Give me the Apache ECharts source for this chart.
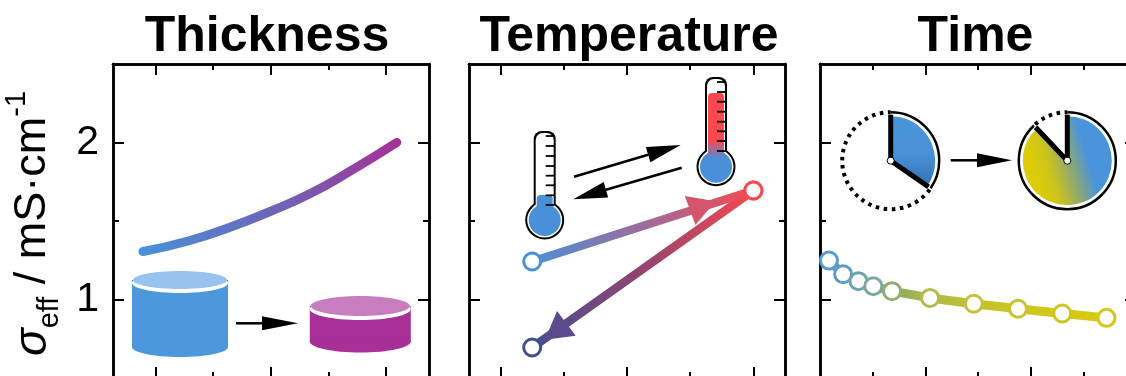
<!DOCTYPE html>
<html>
<head>
<meta charset="utf-8">
<style>
  html, body { margin: 0; padding: 0; background: #fff; overflow: hidden; }
  #chart { width: 1126px; height: 376px; }
</style>
<script src="https://cdn.jsdelivr.net/npm/echarts@6/dist/echarts.min.js"></script>
</head>
<body>
<div id="chart"></div>
<script>
// titles and shared y scale
const titles = ["Thickness", "Temperature", "Time"]
const yMajor = [1, 2]
const yMinor = [1.5]
const yRange = [0.5, 2.5]

// thickness panel
const thicknessRange = [-0.74, 4.75]
const thicknessMajor = [0, 2, 4]
const thicknessMinor = [1, 3]
const thicknessX = [-0.22, 0.55, 1.34, 2.0, 2.68, 3.38, 4.19]
const thicknessY = [1.306, 1.371, 1.467, 1.562, 1.673, 1.817, 2.0]

// temperature panel
const tempRange = [15, 65]
const tempMajor = [20, 40, 60]
const tempMinor = [30, 50]
const heatingX = [25, 60]
const heatingY = [1.242, 1.694]
const coolingX = [60, 25]
const coolingY = [1.694, 0.694]
const arrowX = [52, 28.7]
const arrowY = [1.596, 0.796]
const arrowRotate = [-70, 127]
const arrowColors = ["#d5566c", "#5b4a8e"]

// time panel
const timeRange = [0, 30]
const timeMajor = [10, 20]
const timeMinor = [5, 15, 25]
const timeX = [0.85, 2.2, 3.65, 5.06, 6.84, 10.45, 14.6, 18.8, 23, 27.2]
const timeY = [1.248, 1.161, 1.117, 1.085, 1.053, 1.01, 0.973, 0.941, 0.911, 0.883]
const timeRing = ["#5b9ad0", "#5f9cc4", "#6ea3ad", "#7ea99a", "#93ae75", "#b4bb50", "#c2c23c", "#c8c42e", "#cec620", "#d4c912"]

const FONT = '"Liberation Sans", Arial, sans-serif'
const panels = [
  { left: 113, xRange: thicknessRange, major: thicknessMajor, minor: thicknessMinor, center: 262 },
  { left: 469, xRange: tempRange, major: tempMajor, minor: tempMinor, center: 624 },
  { left: 820, xRange: timeRange, major: timeMajor, minor: timeMinor, center: 970.5 }
]

const grids = [], xAxes = [], yAxes = []

function frameAxis(gridIndex, range, position, ticks, length) {
  return {
    type: "value",
    gridIndex,
    min: range[0],
    max: range[1],
    position,
    splitLine: { show: false },
    axisLine: { show: true, onZero: false, lineStyle: { color: "#000", width: 2.5 } },
    axisTick: { show: true, inside: true, length, customValues: ticks, lineStyle: { color: "#000", width: 2 } },
    axisLabel: { show: false }
  }
}

// each panel gets two stacked grids, one for long ticks and one for short ticks
panels.forEach(function (p, i) {
  ;[[p.major, yMajor, 11], [p.minor, yMinor, 6]].forEach(function (set, k) {
    const g = grids.length
    grids.push({ left: p.left, top: 64, width: 316, height: 314, outerBoundsMode: "none" })
    xAxes.push(frameAxis(g, p.xRange, "bottom", set[0], set[2]))
    xAxes.push(frameAxis(g, p.xRange, "top", set[0], set[2]))
    const yl = frameAxis(g, yRange, "left", set[1], set[2])
    if (i === 0 && k === 0) {
      yl.axisLabel = { show: true, customValues: yMajor, margin: 14, color: "#000", fontFamily: FONT, fontSize: 41 }
      yl.name = "{s|σ}{sub|eff}{n| / mS·cm}{sup|-1}"
      yl.nameLocation = "middle"
      yl.nameGap = 49
      yl.nameTextStyle = {
        color: "#000",
        padding: [0, 5, 0, 0],
        rich: {
          s: { fontFamily: FONT, fontStyle: "italic", fontSize: 46, lineHeight: 62, color: "#000" },
          n: { fontFamily: FONT, fontSize: 45, lineHeight: 62, color: "#000" },
          sub: { fontFamily: FONT, fontSize: 29, lineHeight: 62, verticalAlign: "bottom", color: "#000" },
          sup: { fontFamily: FONT, fontSize: 29, lineHeight: 62, verticalAlign: "top", color: "#000" }
        }
      }
    }
    yAxes.push(yl)
    yAxes.push(frameAxis(g, yRange, "right", set[1], set[2]))
  })
})

function pairs(xs, ys) {
  return xs.map(function (x, i) { return [x, ys[i]] })
}
function ringed(xs, ys, colors) {
  return xs.map(function (x, i) {
    return { value: [x, ys[i]], itemStyle: { color: "#fff", borderColor: colors[i], borderWidth: 3 } }
  })
}
function gradient(stops) {
  return {
    type: "linear", x: 0, y: 0, x2: 1, y2: 0,
    colorStops: stops.map(function (s) { return { offset: s[0], color: s[1] } })
  }
}

const series = [
  {
    type: "line",
    xAxisIndex: 0,
    yAxisIndex: 0,
    data: pairs(thicknessX, thicknessY),
    smooth: true,
    showSymbol: false,
    silent: true,
    lineStyle: { width: 9, cap: "round", color: gradient([[0, "#4a90dc"], [0.5, "#6a68b8"], [1, "#a82f96"]]) }
  },
  {
    type: "line",
    xAxisIndex: 4,
    yAxisIndex: 4,
    z: 4,
    data: ringed(coolingX, coolingY, ["#f9484f", "#3e4f92"]),
    symbol: "circle",
    symbolSize: 17,
    clip: false,
    silent: true,
    lineStyle: { width: 8.5, color: gradient([[0, "#3e4f92"], [0.5, "#94456f"], [1, "#f9484f"]]) }
  },
  {
    type: "line",
    xAxisIndex: 4,
    yAxisIndex: 4,
    z: 5,
    data: ringed(heatingX, heatingY, ["#4a90d9", "#f9484f"]),
    symbol: "circle",
    symbolSize: 17,
    clip: false,
    silent: true,
    lineStyle: { width: 8.5, color: gradient([[0, "#4a90d9"], [0.5, "#9c6d9c"], [1, "#f9484f"]]) }
  },
  {
    type: "scatter",
    xAxisIndex: 4,
    yAxisIndex: 4,
    z: 6,
    silent: true,
    symbol: "triangle",
    symbolSize: [31, 27],
    data: arrowX.map(function (x, i) {
      return { value: [x, arrowY[i]], symbolRotate: arrowRotate[i], itemStyle: { color: arrowColors[i], opacity: 1 } }
    })
  },
  {
    type: "line",
    xAxisIndex: 8,
    yAxisIndex: 8,
    z: 5,
    data: ringed(timeX, timeY, timeRing),
    symbol: "circle",
    symbolSize: 17,
    clip: false,
    silent: true,
    lineStyle: { width: 9, color: gradient([[0, "#5b9ad0"], [0.23, "#8aa86a"], [0.36, "#afb84a"], [0.6, "#c9c525"], [1, "#d8cc10"]]) }
  }
]

// illustrations, placed by hand in pixels
const art = []
function add(type, shape, style, z) {
  art.push({ type, shape, style, silent: true, z: z || 1 })
}
function solidArrow(x0, y0, x1, y1, headLen, headHalf, w) {
  const a = Math.atan2(y1 - y0, x1 - x0)
  const bx = x1 - headLen * Math.cos(a), by = y1 - headLen * Math.sin(a)
  const nx = -Math.sin(a) * headHalf, ny = Math.cos(a) * headHalf
  add("line", { x1: x0, y1: y0, x2: bx, y2: by }, { stroke: "#000", lineWidth: w })
  add("polygon", { points: [[x1, y1], [bx + nx, by + ny], [bx - nx, by - ny]] }, { fill: "#000" })
}
function cylinder(cx, rx, topY, botY, ry, dark, light) {
  add("ellipse", { cx, cy: botY, rx, ry }, { fill: dark })
  add("rect", { x: cx - rx, y: topY, width: 2 * rx, height: botY - topY }, { fill: dark })
  add("ellipse", { cx, cy: topY + 3, rx, ry }, { fill: "#fff" })
  add("ellipse", { cx, cy: topY, rx: rx - 1, ry: ry - 1 }, { fill: light })
}
function thermometer(cx, bulbY, topY, levelY, tickY, tube) {
  add("circle", { cx, cy: bulbY, r: 19.5 }, { fill: "#000" })
  add("rect", { x: cx - 11, y: topY, width: 22, height: bulbY - topY - 10, r: [8, 8, 0, 0] }, { fill: "#000" })
  add("circle", { cx, cy: bulbY, r: 17.5 }, { fill: "#fff" })
  add("rect", { x: cx - 9, y: topY + 2, width: 18, height: bulbY - topY - 10, r: [7, 7, 0, 0] }, { fill: "#fff" })
  add("circle", { cx, cy: bulbY, r: 16 }, { fill: "#4a90d9" })
  add("rect", { x: cx - 8, y: levelY, width: 16, height: bulbY - levelY - 8, r: [4, 4, 0, 0] }, { fill: tube })
  tickY.forEach(function (y) {
    add("line", { x1: cx + 1, y1: y, x2: cx + 10, y2: y }, { stroke: "#000", lineWidth: 1.8 })
  })
}
function rad(d) { return d * Math.PI / 180 }
function clock(cx, cy, handDeg, fill) {
  add("sector", { cx, cy, r: 44.5, r0: 0, startAngle: rad(-90), endAngle: rad(handDeg), clockwise: true }, { fill })
  add("arc", { cx, cy, r: 48.5, startAngle: rad(-90), endAngle: rad(handDeg), clockwise: true }, { stroke: "#000", lineWidth: 2.5, fill: "none" })
  add("arc", { cx, cy, r: 48.5, startAngle: rad(handDeg + 2), endAngle: rad(270), clockwise: true }, { stroke: "#000", lineWidth: 4, fill: "none", lineDash: [3.5, 4.6] })
  add("line", { x1: cx, y1: cy, x2: cx, y2: cy - 46 }, { stroke: "#000", lineWidth: 5 })
  add("line", { x1: cx, y1: cy, x2: cx + 46 * Math.cos(rad(handDeg)), y2: cy + 46 * Math.sin(rad(handDeg)) }, { stroke: "#000", lineWidth: 5 })
  add("circle", { cx, cy, r: 3.5 }, { fill: "#fff", stroke: "#000", lineWidth: 1 })
}

cylinder(180, 48, 280, 347, 10, "#4d97dd", "#98c3ee")
cylinder(360.3, 50.5, 306, 341.5, 11, "#a82f96", "#c87dbf")
solidArrow(236, 323.3, 298, 323.3, 36, 7, 2.5)

thermometer(544.7, 220, 131, 195, [136, 146, 156, 166, 175.7, 185.3, 195.3, 205], "#4a90d9")
thermometer(716, 166.7, 77, 93, [82, 92, 101.7, 111.7, 121.7, 131.3, 141, 151], {
  type: "linear", x: 0, y: 0, x2: 0, y2: 1,
  colorStops: [{ offset: 0, color: "#f9484f" }, { offset: 0.72, color: "#f9484f" }, { offset: 1, color: "#4a90d9" }]
})
solidArrow(574, 176.7, 680.7, 145, 34, 8, 2.5)
solidArrow(681.7, 167.7, 573.3, 199.3, 34, 8, 2.5)

clock(890.7, 160.7, 34.6, {
  type: "linear", x: 890, y: 115, x2: 890, y2: 195, global: true,
  colorStops: [{ offset: 0, color: "#4a94dc" }, { offset: 0.5, color: "#4a90d6" }, { offset: 1, color: "#2a66a8" }]
})
clock(1067.3, 160.7, 226.5, {
  type: "linear", x: 1035, y: 172, x2: 1092, y2: 155, global: true,
  colorStops: [{ offset: 0, color: "#dccc08" }, { offset: 0.25, color: "#ccc41c" }, { offset: 0.6, color: "#8ea870" }, { offset: 0.92, color: "#4a94dc" }]
})
solidArrow(950.7, 160.3, 1012, 160.3, 35, 7, 2.5)

const option = {
  animation: false,
  backgroundColor: "#fff",
  title: titles.map(function (t, i) {
    return {
      text: t,
      left: panels[i].center,
      top: 7,
      textAlign: "center",
      textStyle: { fontFamily: FONT, fontWeight: "bold", fontSize: 50, color: "#000" }
    }
  }),
  grid: grids,
  xAxis: xAxes,
  yAxis: yAxes,
  series,
  graphic: art
}

const myChart = echarts.init(document.getElementById("chart"), null, { renderer: "canvas" })
myChart.setOption(option)
window.addEventListener("resize", function () {
  myChart.resize()
})
</script>
</body>
</html>
